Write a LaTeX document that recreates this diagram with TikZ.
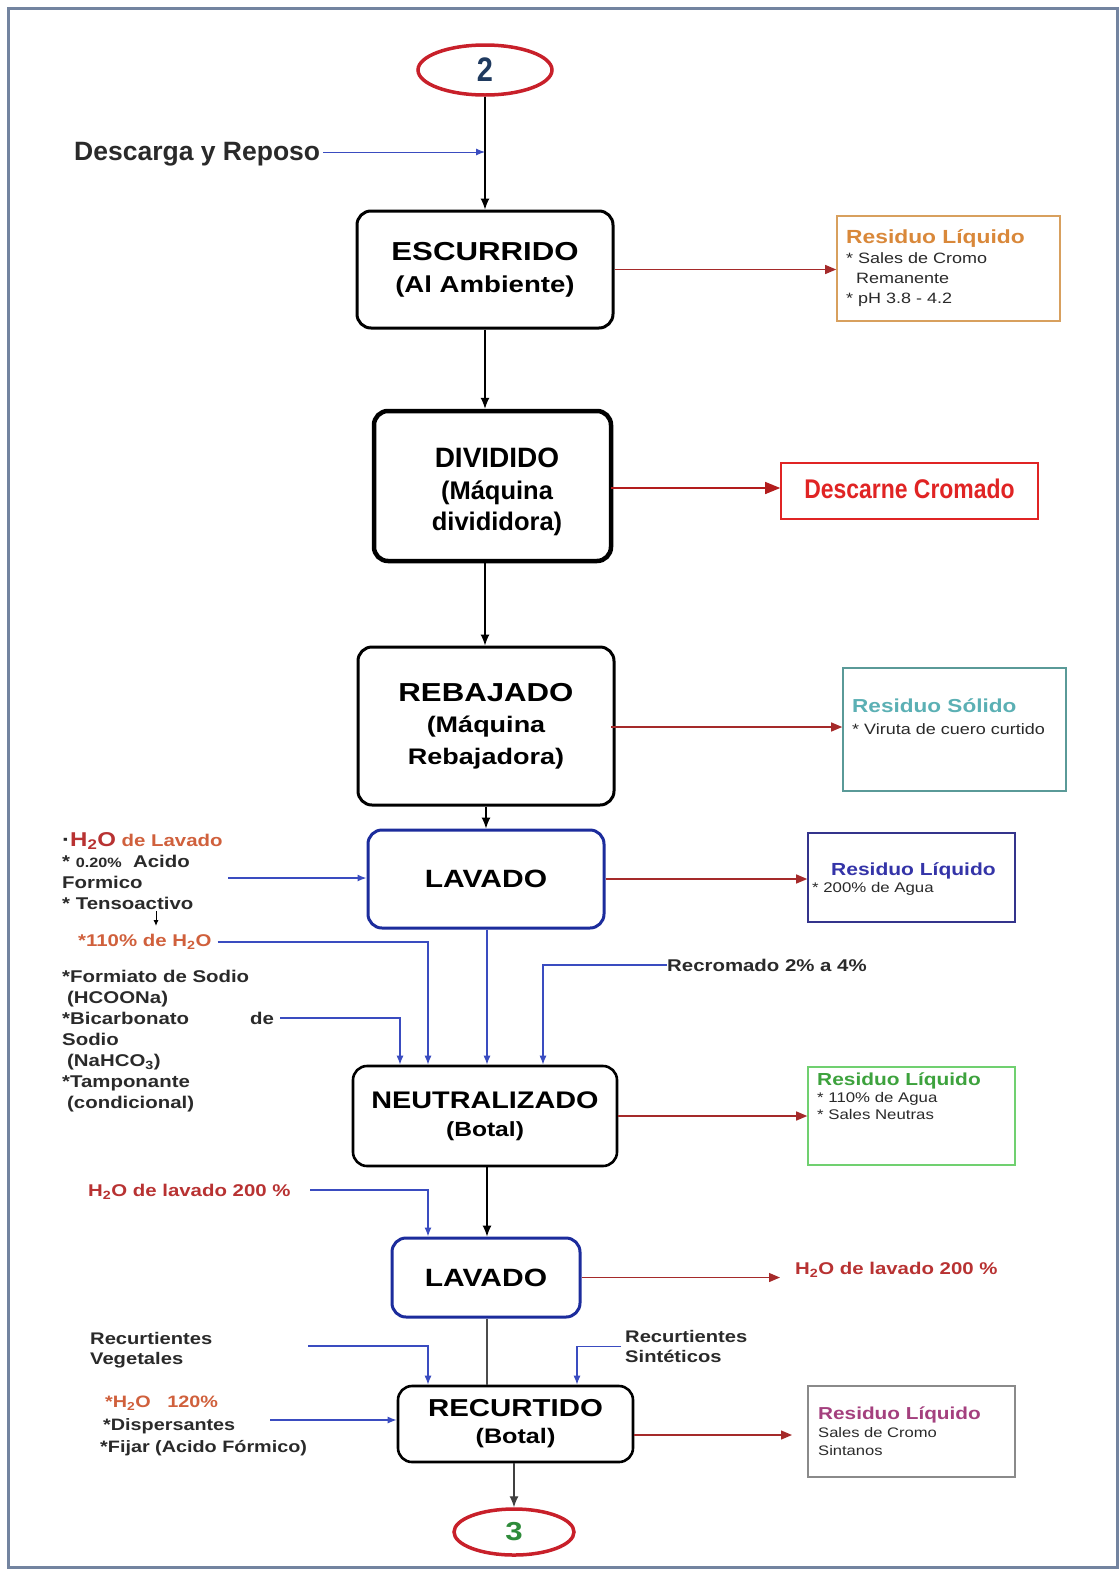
\documentclass[tikz,border=0pt]{standalone}
\usepackage{fontspec}
\setmainfont[FakeStretch=1.2]{Liberation Sans}
\newfontfamily\plainfont{Liberation Sans}
\newfontfamily\narrowfont[FakeStretch=0.85]{Liberation Sans}
\usetikzlibrary{arrows.meta,shapes.geometric,calc}
\definecolor{framec}{HTML}{7384A0}
\definecolor{ered}{HTML}{C8202A}
\definecolor{numblue}{HTML}{1F3A5F}
\definecolor{numgreen}{HTML}{2E8B3A}
\definecolor{inblue}{HTML}{3A4CC0}
\definecolor{outred}{HTML}{A52A2A}
\definecolor{lavblue}{HTML}{1C2C9C}
\definecolor{orgtitle}{HTML}{D9883A}
\definecolor{orgframe}{HTML}{D8A05E}
\definecolor{desred}{HTML}{E02424}
\definecolor{tealt}{HTML}{5BB0B4}
\definecolor{tealf}{HTML}{5A9A98}
\definecolor{bluet}{HTML}{3434A8}
\definecolor{bluef}{HTML}{34348C}
\definecolor{greent}{HTML}{3DA23D}
\definecolor{greenf}{HTML}{70D070}
\definecolor{magt}{HTML}{A4407E}
\definecolor{grayf}{HTML}{8A8A8A}
\definecolor{txtred}{HTML}{B83232}
\definecolor{txtorg}{HTML}{D0603C}
\definecolor{txtgray}{HTML}{2A2A2A}
\tikzset{
  proc/.style={draw=black, line width=3pt, rounded corners=14pt, align=center, inner sep=0pt},
  lavbox/.style={proc, draw=lavblue},
  mainarrow/.style={draw=black, line width=1.2pt, -{Latex[length=11pt,width=9pt]}},
  inarrow/.style={draw=inblue, line width=1.3pt, -{Latex[length=9pt,width=7pt]}},
  outarrow/.style={draw=outred, line width=1.3pt, -{Triangle[length=11pt,width=9pt]}},
  resbox/.style={draw, line width=1.6pt, inner sep=0pt},
  restext/.style={anchor=north west, align=left, inner sep=0pt, text=txtgray},
  lefttext/.style={anchor=north west, align=left, inner sep=0pt, text=txtgray},
  conn/.style={draw=ered, line width=3.5pt, ellipse, inner sep=0pt}
}
\begin{document}
\begin{tikzpicture}[x=1pt,y=-1pt]
\useasboundingbox (0,0) rectangle (1119,1569);
\fill[white] (0,0) rectangle (1119,1569);
\draw[framec, line width=3pt] (8,8) rectangle (1117,1567);

% connectors (ellipses)
\node[conn, minimum width=134pt, minimum height=50pt, text=numblue, font=\narrowfont\bfseries\fontsize{34}{36}\selectfont] (c2) at (485,70) {2};
\node[conn, minimum width=120pt, minimum height=46pt, text=numgreen, font=\bfseries\fontsize{26}{30}\selectfont] (c3) at (514,1532) {3};

% process boxes
\node[proc, minimum width=256pt, minimum height=117pt, font=\bfseries\fontsize{23}{32}\selectfont] (esc) at (485,269.5)
  {{\fontsize{26}{32}\selectfont ESCURRIDO}\\(Al Ambiente)};
\node[proc, line width=4.5pt, minimum width=237pt, minimum height=150pt] (div) at (492.5,486) {};
\node[align=center, inner sep=0pt, font=\plainfont\bfseries\fontsize{25.5}{31.5}\selectfont] (divt) at (497,492)
  {{\fontsize{28}{31.5}\selectfont DIVIDIDO}\\(Máquina\\divididora)};
\node[proc, minimum width=256pt, minimum height=158pt, font=\bfseries\fontsize{22.5}{31.5}\selectfont] (reb) at (486,726)
  {{\fontsize{26}{31.5}\selectfont REBAJADO}\\(Máquina\\Rebajadora)};
\node[lavbox, minimum width=236pt, minimum height=98pt, font=\bfseries\fontsize{25}{28}\selectfont] (lav1) at (486,879)
  {LAVADO};
\node[proc, line width=2.6pt, minimum width=264pt, minimum height=100pt, font=\bfseries\fontsize{20.5}{28}\selectfont] (neu) at (485,1116)
  {{\fontsize{24}{28}\selectfont NEUTRALIZADO}\\(Botal)};
\node[lavbox, minimum width=188pt, minimum height=79pt, font=\bfseries\fontsize{25}{28}\selectfont] (lav2) at (486,1277.5)
  {LAVADO};
\node[proc, line width=2.6pt, minimum width=235pt, minimum height=76pt, font=\bfseries\fontsize{21}{27}\selectfont] (rec) at (515.5,1424)
  {{\fontsize{24.5}{27}\selectfont RECURTIDO}\\(Botal)};

% main flow
\draw[mainarrow] (c2.south) -- (c2.south |- esc.north);
\draw[mainarrow] (esc.south) -- (esc.south |- div.north);
\draw[mainarrow] (esc.south |- div.south) -- (esc.south |- reb.north);
\draw[mainarrow] (reb.south) -- (lav1.north);
\draw[inarrow] ([xshift=1pt]lav1.south) -- ([xshift=1pt]lav1.south |- neu.north);
\draw[mainarrow] ([xshift=1pt]lav1.south |- neu.south) -- ([xshift=1pt]lav1.south |- lav2.north);
\draw[draw=black!70, line width=1.5pt] ([xshift=1pt]lav2.south) -- ([xshift=1pt]lav2.south |- rec.north);
\draw[mainarrow, draw=black!75] (rec.south -| c3) -- (c3.north);

% Descarga y Reposo
\node[anchor=west, inner sep=0pt, font=\plainfont\bfseries\fontsize{26.5}{30}\selectfont, text=txtgray] (desc) at (74,154) {Descarga y Reposo};
\coordinate (descend) at (485,152);
\draw[inarrow, line width=1pt] (desc.east |- descend) ++(3,0) -- (descend);

% residue boxes
\node[resbox, draw=orgframe, minimum width=223pt, minimum height=105pt] (r1) at (948.5,268.5) {};
\node[restext, font=\fontsize{15}{20}\selectfont] (r1t) at (846,229)
  {\textcolor{orgtitle}{\bfseries\fontsize{19}{20}\selectfont Residuo Líquido}\\* Sales de Cromo\\\hspace*{10pt}Remanente\\* pH 3.8 - 4.2};
\draw[outarrow] (esc.east) -- (esc.east -| r1.west);

\node[resbox, draw=desred, minimum width=257pt, minimum height=56pt, text=desred, font=\narrowfont\bfseries\fontsize{27}{28}\selectfont] (r2) at (909.5,491) {\raisebox{5pt}{Descarne Cromado}};
\coordinate (divout) at (611,488);
\draw[outarrow, draw=desred!80!black, -{Triangle[length=15pt,width=12pt]}] (divout) -- (divout -| r2.west);

\node[resbox, draw=tealf, minimum width=223pt, minimum height=123pt] (r3) at (954.5,729.5) {};
\node[restext, font=\fontsize{15}{22}\selectfont] (r3t) at (852,699)
  {\textcolor{tealt}{\bfseries\fontsize{18.8}{22}\selectfont Residuo Sólido}\\* Viruta de cuero curtido};
\coordinate (rebout) at (611,727);
\draw[outarrow] (rebout) -- (rebout -| r3.west);

\node[resbox, draw=bluef, minimum width=207pt, minimum height=89pt] (r4) at (911.5,877.5) {};
\node[restext, font=\fontsize{17.5}{19}\selectfont] (r4t) at (831,862)
  {\textcolor{bluet}{\bfseries Residuo Líquido}};
\node[restext, font=\fontsize{14}{15}\selectfont] (r4u) at (812,882) {* 200\% de Agua};
\draw[outarrow] (lav1.east) -- (lav1.east -| r4.west);

\node[resbox, draw=greenf, minimum width=207pt, minimum height=98pt] (r5) at (911.5,1116) {};
\node[restext, font=\fontsize{14}{17}\selectfont] (r5t) at (817,1073)
  {\textcolor{greent}{\bfseries\fontsize{17.4}{18}\selectfont Residuo Líquido}\\* 110\% de Agua\\* Sales Neutras};
\draw[outarrow] (neu.east) -- (neu.east -| r5.west);

\coordinate (l2end) at (780,1277);
\draw[outarrow] (lav2.east) -- (lav2.east -| l2end);
\node[anchor=west, inner sep=0pt, font=\bfseries\fontsize{17}{18}\selectfont, text=txtred] (l2out) at (795,1270) {H\textsubscript{2}O de lavado 200 \%};

\node[resbox, draw=grayf, minimum width=207pt, minimum height=91pt] (r6) at (911.5,1431.5) {};
\node[restext, font=\fontsize{13.8}{18}\selectfont] (r6t) at (818,1407)
  {\textcolor{magt}{\bfseries\fontsize{17.3}{18}\selectfont Residuo Líquido}\\Sales de Cromo\\Sintanos};
\coordinate (recend) at (792,1435);
\draw[outarrow] (rec.east |- recend) -- (recend);

% LAVADO inputs
\node[lefttext, font=\bfseries\fontsize{17}{21}\selectfont] (lavin) at (62,832)
  {{\fontsize{20}{20}\selectfont ·}\textcolor{txtred}{\fontsize{20}{21}\selectfont H\textsubscript{2}O} \textcolor{txtorg}{de Lavado}\\
   * {\fontsize{13.5}{21}\selectfont 0.20\%}\ \ Acido\\
   Formico\\
   * Tensoactivo};
\coordinate (lavinstart) at (228,878);
\draw[inarrow] (lavinstart) -- (lavinstart -| lav1.west);
\coordinate (tsa) at (156,911);
\coordinate (tsb) at (156,926);
\draw[draw=black, line width=1pt, -{Latex[length=6pt,width=5pt]}] (tsa) -- (tsb);

\node[anchor=west, inner sep=0pt, font=\bfseries\fontsize{17}{18}\selectfont, text=txtorg] (h110) at (78,942) {*110\% de H\textsubscript{2}O};
\draw[inarrow] ([xshift=6pt]h110.east) -| ([xshift=-57pt]neu.north);

\node[anchor=west, inner sep=0pt, font=\bfseries\fontsize{17}{18}\selectfont, text=txtgray] (recro) at (667,965) {Recromado 2\% a 4\%};
\draw[inarrow] (recro.west) -| ([xshift=58pt]neu.north);

\node[lefttext, font=\bfseries\fontsize{17}{21}\selectfont] (neuin) at (62,970)
  {*Formiato de Sodio\\
   \hspace*{5pt}(HCOONa)\\
   *Bicarbonato\hspace{61pt}de\\
   Sodio\\
   \hspace*{5pt}(NaHCO\textsubscript{3})\\
   *Tamponante\\
   \hspace*{5pt}(condicional)};
\coordinate (neuinstart) at (280,1018);
\draw[inarrow] (neuinstart) -| ([xshift=-85pt]neu.north);

% LAVADO 2 input
\node[anchor=west, inner sep=0pt, font=\bfseries\fontsize{17}{18}\selectfont, text=txtred] (h200) at (88,1192) {H\textsubscript{2}O de lavado 200 \%};
\coordinate (h200start) at (310,1190);
\draw[inarrow] (h200start) -| ([xshift=-58pt]lav2.north);

% RECURTIDO inputs
\node[lefttext, font=\bfseries\fontsize{16.8}{20}\selectfont] (veg) at (90,1332) {Recurtientes\\Vegetales};
\coordinate (vegstart) at (308,1346);
\draw[inarrow] (vegstart) -| ([xshift=-87.5pt]rec.north);

\node[lefttext, font=\bfseries\fontsize{16.8}{20}\selectfont] (sint) at (625,1330) {Recurtientes\\Sintéticos};
\draw[inarrow] ([xshift=-4pt]sint.west) -| ([xshift=61.5pt]rec.north);

\node[lefttext, font=\bfseries\fontsize{16.5}{22.5}\selectfont] (recin) at (100,1396)
  {\hspace*{5pt}\textcolor{txtorg}{*H\textsubscript{2}O\ \ \ 120\%}\\
   \hspace*{3pt}*Dispersantes\\
   *Fijar (Acido Fórmico)};
\coordinate (recinstart) at (270,1420);
\draw[inarrow] (recinstart) -- (recinstart -| rec.west);
\end{tikzpicture}
\end{document}
